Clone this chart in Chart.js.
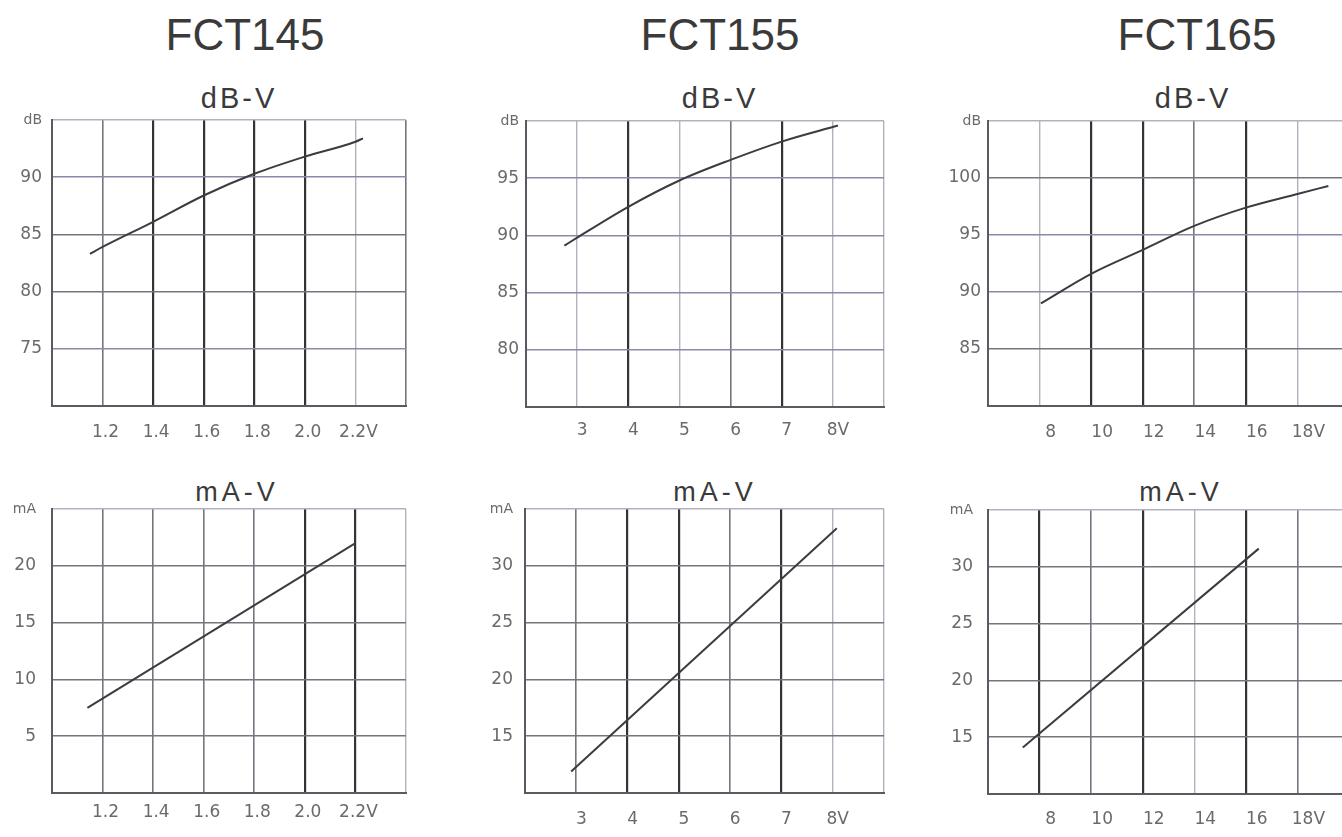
<!DOCTYPE html>
<html>
<head>
<meta charset="utf-8">
<title>FCT145 / FCT155 / FCT165 - dB-V, mA-V</title>
<script src="https://cdn.jsdelivr.net/npm/chart.js@4.4.1/dist/chart.umd.min.js"></script>
<style>
  html, body { margin: 0; padding: 0; background: #fff; overflow: hidden; }
  body { width: 1342px; height: 837px; position: relative; font-family: "Liberation Sans", Arial, sans-serif; color: #3a3a3a; }
  .lbl { position: absolute; width: 300px; text-align: center; line-height: 1; white-space: nowrap; }
  .model { font-size: 44px; top: 13px; }
  .sub-db { font-size: 29px; top: 84px; letter-spacing: 3px; padding-left: 3px; }
  .sub-ma { font-size: 27px; top: 479px; letter-spacing: 4px; padding-left: 4px; }
  .panel { position: absolute; }
</style>
</head>
<body>
<div class="lbl model" style="left:95px">FCT145</div>
<div class="lbl model" style="left:570px">FCT155</div>
<div class="lbl model" style="left:1047px">FCT165</div>

<div class="lbl sub-db" style="left:86px">dB-V</div>
<div class="lbl sub-db" style="left:567px">dB-V</div>
<div class="lbl sub-db" style="left:1040px">dB-V</div>

<div class="lbl sub-ma" style="left:83px">mA-V</div>
<div class="lbl sub-ma" style="left:561px">mA-V</div>
<div class="lbl sub-ma" style="left:1027px">mA-V</div>

<div class="panel" id="p1"><canvas id="c1"></canvas></div>
<div class="panel" id="p2"><canvas id="c2"></canvas></div>
<div class="panel" id="p3"><canvas id="c3"></canvas></div>
<div class="panel" id="p4"><canvas id="c4"></canvas></div>
<div class="panel" id="p5"><canvas id="c5"></canvas></div>
<div class="panel" id="p6"><canvas id="c6"></canvas></div>

<script>
// Values.

// FCT145
var volts145Db = [1.15, 1.2, 1.4, 1.6, 1.8, 2.0, 2.2, 2.23];
var db145 = [83.3, 83.9, 86.1, 88.4, 90.3, 91.8, 93.1, 93.4];
var volts145Ma = [1.14, 2.2];
var ma145 = [7.5, 22.0];
var ticks145V = [1.0, 1.2, 1.4, 1.6, 1.8, 2.0, 2.2, 2.4];
var labels145V = ['', '1.2', '1.4', '1.6', '1.8', '2.0', '2.2V', ''];
var ticks145Db = [70, 75, 80, 85, 90, 95];
var labels145Db = ['', '75', '80', '85', '90', 'dB'];
var ticks145Ma = [0, 5, 10, 15, 20, 25];
var labels145Ma = ['', '5', '10', '15', '20', 'mA'];

// FCT155
var volts155Db = [2.75, 3, 4, 5, 6, 7, 8.1];
var db155 = [89.1, 89.8, 92.5, 94.8, 96.6, 98.2, 99.6];
var volts155Ma = [2.9, 8.08];
var ma155 = [11.9, 33.3];
var ticks155V = [2, 3, 4, 5, 6, 7, 8, 9];
var labels155V = ['', '3', '4', '5', '6', '7', '8V', ''];
var ticks155Db = [75, 80, 85, 90, 95, 100];
var labels155Db = ['', '80', '85', '90', '95', 'dB'];
var ticks155Ma = [10, 15, 20, 25, 30, 35];
var labels155Ma = ['', '15', '20', '25', '30', 'mA'];

// FCT165
var volts165Db = [8.05, 10, 12, 14, 16, 18, 19.2];
var db165 = [89.0, 91.6, 93.7, 95.8, 97.4, 98.6, 99.3];
var volts165Ma = [7.35, 16.5];
var ma165 = [14.1, 31.6];
var ticks165V = [6, 8, 10, 12, 14, 16, 18, 20];
var labels165V = ['', '8', '10', '12', '14', '16', '18V', ''];
var ticks165Db = [80, 85, 90, 95, 100, 105];
var labels165Db = ['', '85', '90', '95', '100', 'dB'];
var ticks165Ma = [10, 15, 20, 25, 30, 35];
var labels165Ma = ['', '15', '20', '25', '30', 'mA'];

// grid line shades of the scanned print: e=edge, d=dark, m=mid, l=light, b=bluish
var SHADES = {
  e: { c: '#5a5a62', w: 2 },
  d: { c: '#333338', w: 2.2 },
  m: { c: '#75757e', w: 1.6 },
  l: { c: '#b2b2bf', w: 1.4 },
  b: { c: '#8a8aa6', w: 1.6 },
};
var AXIS_W = 60, AXIS_H = 50;

function shade(list, i) { return SHADES[list[i]] || SHADES.l; }

function pairs(xs, ys) {
  return xs.map(function (x, i) { return { x: x, y: ys[i] }; });
}

function makeCurve(id, spec) {
  // spec.rect = wanted plot area {l, r, t, b} in page pixels.
  // Chart.js adds tick padding to the axis end paddings, so reserve it around the plot.
  var padTop = spec.yPad + 10, padRight = spec.xPad + 2;
  var box = document.getElementById('p' + id);
  box.style.left = (spec.rect.l - AXIS_W) + 'px';
  box.style.top = (spec.rect.t - padTop) + 'px';
  box.style.width = (spec.rect.r - spec.rect.l + AXIS_W + padRight) + 'px';
  box.style.height = (spec.rect.b - spec.rect.t + padTop + AXIS_H) + 'px';

  return new Chart(document.getElementById('c' + id), {
    type: 'line',
    data: {
      datasets: [{
        data: pairs(spec.xs, spec.ys),
        borderColor: '#3c3c40',
        borderWidth: 2,
        pointRadius: 0,
        fill: false,
        cubicInterpolationMode: spec.smooth ? 'monotone' : 'default',
        tension: 0,
      }],
    },
    options: {
      responsive: true, maintainAspectRatio: false, animation: false,
      layout: { padding: { top: padTop, right: padRight, left: 0, bottom: 0 } },
      plugins: { legend: { display: false }, tooltip: { enabled: false }, title: { display: false } },
      scales: {
        x: {
          type: 'linear',
          min: spec.xTicks[0], max: spec.xTicks[spec.xTicks.length - 1],
          afterBuildTicks: function (s) { s.ticks = spec.xTicks.map(function (v) { return { value: v }; }); },
          afterFit: function (s) { s.height = AXIS_H; },
          border: { color: SHADES.e.c, width: SHADES.e.w },
          grid: {
            drawTicks: false,
            color: function (c) { return shade(spec.xShade, c.index).c; },
            lineWidth: function (c) { return shade(spec.xShade, c.index).w; },
          },
          ticks: {
            autoSkip: false, maxRotation: 0, minRotation: 0,
            padding: spec.xPad, labelOffset: spec.xOffset,
            color: '#6a6a6e', font: { family: 'DejaVu Sans', size: 17 },
            callback: function (v, i) { return spec.xLabels[i]; },
          },
        },
        y: {
          type: 'linear',
          min: spec.yTicks[0], max: spec.yTicks[spec.yTicks.length - 1],
          afterBuildTicks: function (s) { s.ticks = spec.yTicks.map(function (v) { return { value: v }; }); },
          afterFit: function (s) { s.width = AXIS_W; },
          border: { color: SHADES.e.c, width: SHADES.e.w },
          grid: {
            drawTicks: false,
            color: function (c) { return shade(spec.yShade, c.index).c; },
            lineWidth: function (c) { return shade(spec.yShade, c.index).w; },
          },
          ticks: {
            autoSkip: false, padding: spec.yPad,
            color: '#6a6a6e',
            font: function (c) {
              // unit label (dB / mA) sits on the top line in a smaller size
              return { family: 'DejaVu Sans', size: c.index === spec.yTicks.length - 1 ? 14 : 17 };
            },
            callback: function (v, i) { return spec.yLabels[i]; },
          },
        },
      },
    },
  });
}

makeCurve(1, {
  rect: { l: 52, r: 406, t: 120, b: 406 },
  xs: volts145Db, ys: db145, smooth: true,
  xTicks: ticks145V, xLabels: labels145V, yTicks: ticks145Db, yLabels: labels145Db,
  xShade: ['e', 'm', 'd', 'd', 'd', 'd', 'l', 'm'], yShade: ['e', 'b', 'm', 'm', 'b', 'l'],
  xPad: 16, yPad: 10, xOffset: 3,
});
makeCurve(2, {
  rect: { l: 52, r: 406, t: 509, b: 793 },
  xs: volts145Ma, ys: ma145, smooth: false,
  xTicks: ticks145V, xLabels: labels145V, yTicks: ticks145Ma, yLabels: labels145Ma,
  xShade: ['e', 'm', 'm', 'm', 'm', 'd', 'd', 'l'], yShade: ['e', 'm', 'm', 'm', 'm', 'l'],
  xPad: 9, yPad: 16, xOffset: 3,
});
makeCurve(3, {
  rect: { l: 526, r: 884, t: 121, b: 407 },
  xs: volts155Db, ys: db155, smooth: true,
  xTicks: ticks155V, xLabels: labels155V, yTicks: ticks155Db, yLabels: labels155Db,
  xShade: ['e', 'l', 'd', 'l', 'm', 'd', 'l', 'l'], yShade: ['e', 'b', 'b', 'b', 'b', 'l'],
  xPad: 13, yPad: 7, xOffset: 5,
});
makeCurve(4, {
  rect: { l: 525, r: 884, t: 509, b: 793 },
  xs: volts155Ma, ys: ma155, smooth: false,
  xTicks: ticks155V, xLabels: labels155V, yTicks: ticks155Ma, yLabels: labels155Ma,
  xShade: ['e', 'm', 'd', 'd', 'm', 'd', 'l', 'l'], yShade: ['e', 'm', 'm', 'm', 'm', 'l'],
  xPad: 16, yPad: 12, xOffset: 5,
});
makeCurve(5, {
  rect: { l: 988, r: 1349, t: 121, b: 406 },
  xs: volts165Db, ys: db165, smooth: true,
  xTicks: ticks165V, xLabels: labels165V, yTicks: ticks165Db, yLabels: labels165Db,
  xShade: ['e', 'l', 'd', 'd', 'm', 'd', 'l', 'l'], yShade: ['e', 'm', 'b', 'b', 'm', 'l'],
  xPad: 16, yPad: 7, xOffset: 11,
});
makeCurve(6, {
  rect: { l: 988, r: 1349, t: 510, b: 794 },
  xs: volts165Ma, ys: ma165, smooth: false,
  xTicks: ticks165V, xLabels: labels165V, yTicks: ticks165Ma, yLabels: labels165Ma,
  xShade: ['e', 'd', 'm', 'd', 'l', 'd', 'm', 'l'], yShade: ['e', 'm', 'm', 'm', 'm', 'l'],
  xPad: 15, yPad: 15, xOffset: 11,
});
</script>
</body>
</html>
